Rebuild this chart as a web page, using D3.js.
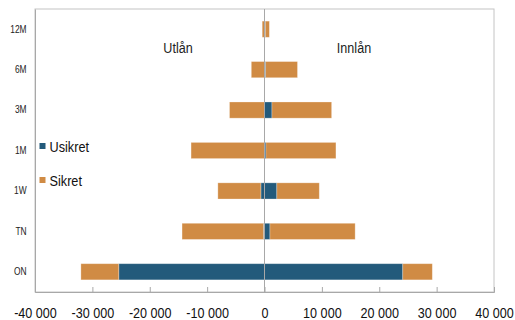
<!DOCTYPE html>
<html>
<head>
<meta charset="utf-8">
<script src="https://cdn.jsdelivr.net/npm/d3@7"></script>
<style>
  html, body { margin: 0; padding: 0; background: #fff; }
  svg { display: block; font-family: "Liberation Sans", Arial, sans-serif; }
</style>
</head>
<body>
<svg id="chart" width="515" height="320"></svg>
<script>
// Maturities, top to bottom
const categories = ["12M", "6M", "3M", "1M", "1W", "TN", "ON"];
// Lending (Utlån), negative side
const utlanUsikret = [0, 0, 0, 0, -630, -170, -25400];
const utlanSikret = [-400, -2300, -6100, -12800, -7500, -14200, -6600];
// Deposits (Innlån), positive side
const innlanUsikret = [150, 200, 1300, 250, 2150, 950, 24100];
const innlanSikret = [700, 5550, 10400, 12200, 7400, 14850, 5150];
const xTicks = [-40000, -30000, -20000, -10000, 0, 10000, 20000, 30000, 40000];
const seriesNames = ["Usikret", "Sikret"];
const colors = { Usikret: "#235a7b", Sikret: "#d08b44" };

// Horizontal condensing for all text
const SQ = 0.84;

const svg = d3.select("#chart");
const m = { left: 35, right: 494, top: 9, bottom: 292 };

const x = d3.scaleLinear().domain([-40000, 40000]).range([m.left, m.right]);
const y = d3.scaleBand().domain(categories).range([m.top, m.bottom]).paddingInner(0.6).paddingOuter(0.3);

// Build stacked segments: usikret next to zero, sikret outside it
const segs = [];
categories.forEach((c, i) => {
  segs.push({ c, s: "Usikret", x0: 0, x1: utlanUsikret[i] });
  segs.push({ c, s: "Sikret", x0: utlanUsikret[i], x1: utlanUsikret[i] + utlanSikret[i] });
  segs.push({ c, s: "Usikret", x0: 0, x1: innlanUsikret[i] });
  segs.push({ c, s: "Sikret", x0: innlanUsikret[i], x1: innlanUsikret[i] + innlanSikret[i] });
});

// Frame
svg.append("rect")
  .attr("x", m.left).attr("y", m.top)
  .attr("width", m.right - m.left).attr("height", m.bottom - m.top)
  .attr("fill", "none").attr("stroke", "#c4c4c4").attr("stroke-width", 1);

svg.append("g").selectAll("rect").data(segs.filter(d => d.x1 !== d.x0)).join("rect")
  .attr("x", d => x(Math.min(d.x0, d.x1)))
  .attr("y", d => y(d.c))
  .attr("width", d => Math.abs(x(d.x1) - x(d.x0)))
  .attr("height", y.bandwidth())
  .attr("fill", d => colors[d.s])
  .attr("stroke", "rgba(255,255,255,0.35)").attr("stroke-width", 0.8);

// Zero line over bars
svg.append("line")
  .attr("x1", x(0)).attr("x2", x(0))
  .attr("y1", m.top).attr("y2", m.bottom)
  .attr("stroke", "#a8a8a8").attr("stroke-width", 1);

// Bottom axis
const xAxis = d3.axisBottom(x).tickValues(xTicks).tickSize(-5).tickPadding(15)
  .tickFormat(d => d3.format(",")(d).replace(/,/g, " ").replace("−", "-"));
const gx = svg.append("g").attr("transform", `translate(0,${m.bottom})`).call(xAxis);
gx.select(".domain").attr("stroke", "#a8a8a8");
gx.selectAll(".tick line").attr("stroke", "#a8a8a8");
gx.selectAll("text").attr("font-size", 15).attr("fill", "#111")
  .attr("font-family", null).attr("transform", `scale(${SQ},1)`);

// Left axis (category labels)
const yAxis = d3.axisLeft(y).tickSize(0).tickPadding(10.5);
const gy = svg.append("g").attr("transform", `translate(${m.left},0)`).call(yAxis);
gy.select(".domain").attr("stroke", "#a8a8a8");
gy.selectAll("text").attr("font-size", 10.5).attr("fill", "#222")
  .attr("font-family", null).attr("transform", `scale(0.8,1)`);

// Side titles
const title = (tx, ty, label) => svg.append("g").attr("transform", `translate(${tx},${ty}) scale(${SQ},1)`)
  .append("text").attr("text-anchor", "middle").attr("font-size", 15).attr("fill", "#222").text(label);
title(178, 53, "Utlån");
title(354, 53, "Innlån");

// Legend
const leg = svg.append("g").selectAll("g").data(seriesNames).join("g")
  .attr("transform", (d, i) => `translate(39.5,${146 + i * 34})`);
leg.append("rect").attr("x", 0).attr("y", -3).attr("width", 6).attr("height", 6)
  .attr("fill", d => colors[d]);
leg.append("text").attr("transform", `translate(10,6) scale(0.82,1)`)
  .attr("font-size", 15.5).attr("fill", "#111").text(d => d);
</script>
</body>
</html>
